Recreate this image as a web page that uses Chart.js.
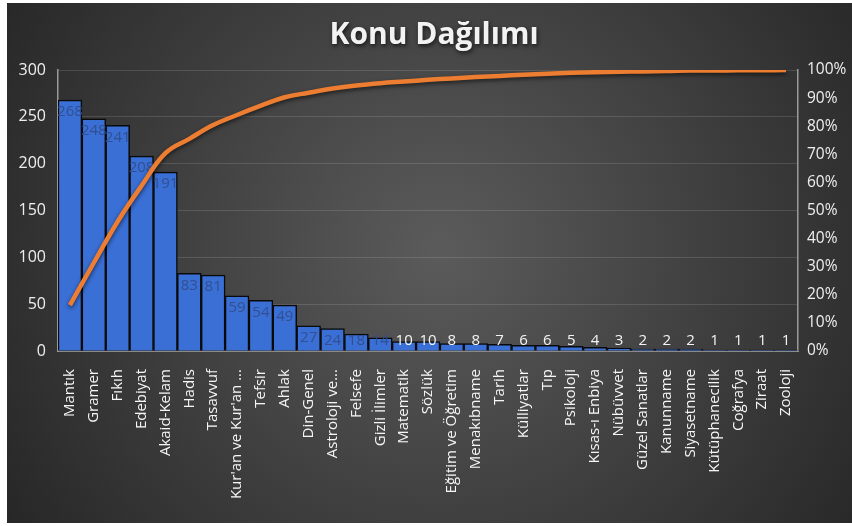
<!DOCTYPE html>
<html>
<head>
<meta charset="utf-8">
<script src="https://cdn.jsdelivr.net/npm/chart.js@4.4.1/dist/chart.umd.min.js"></script>
<style>
  html, body { margin: 0; padding: 0; background: #ffffff; }
  #kutu { width: 852px; height: 526px; }
</style>
</head>
<body>
<div id="kutu"><canvas id="grafikKonu"></canvas></div>
<script>
// Konu dağılımı verileri
const konular = ["Mantık", "Gramer", "Fıkıh", "Edebiyat", "Akaid-Kelam", "Hadis", "Tasavvuf",
    "Kur'an ve Kur'an ...", "Tefsir", "Ahlak", "Din-Genel", "Astroloji ve...", "Felsefe",
    "Gizli İlimler", "Matematik", "Sözlük", "Eğitim ve Öğretim", "Menakıbname", "Tarih",
    "Külliyatlar", "Tıp", "Psikoloji", "Kısas-ı Enbiya", "Nübüvvet", "Güzel Sanatlar",
    "Kanunname", "Siyasetname", "Kütüphanecilik", "Coğrafya", "Ziraat", "Zooloji"];
const adetler = [268, 248, 241, 208, 191, 83, 81, 59, 54, 49, 27, 24, 18, 14, 10, 10,
    8, 8, 7, 6, 6, 5, 4, 3, 2, 2, 2, 1, 1, 1, 1];
const kumulatif = [16.3, 31.4, 46.1, 58.8, 70.4, 75.5, 80.4, 84.0, 87.3, 90.3, 91.9, 93.4,
    94.5, 95.3, 95.9, 96.5, 97.0, 97.5, 97.9, 98.3, 98.7, 99.0, 99.2, 99.4, 99.5, 99.6,
    99.8, 99.8, 99.9, 99.9, 100];
const solTikler = [0, 50, 100, 150, 200, 250, 300];
const sagTikler = [0, 10, 20, 30, 40, 50, 60, 70, 80, 90, 100];
const baslik = "Konu Dağılımı";

const yazi = "'Open Sans', 'Noto Sans', sans-serif";

const arkaPlan = {
    id: 'arkaPlan',
    beforeDraw(chart) {
        let ctx = chart.ctx;
        ctx.save();
        ctx.fillStyle = '#ffffff';
        ctx.fillRect(0, 0, chart.width, chart.height);
        let g = ctx.createRadialGradient(440, 250, 10, 440, 250, 520);
        g.addColorStop(0, '#5a5a5a');
        g.addColorStop(1, '#262626');
        ctx.fillStyle = g;
        ctx.fillRect(7, 3, chart.width - 7, chart.height - 6);
        ctx.restore();
    },
    afterDraw(chart) {
        let ctx = chart.ctx;
        ctx.save();
        ctx.font = "bold 30px " + yazi;
        ctx.textAlign = 'center';
        ctx.textBaseline = 'middle';
        ctx.shadowColor = 'rgba(0,0,0,0.7)';
        ctx.shadowBlur = 4;
        ctx.shadowOffsetX = 1;
        ctx.shadowOffsetY = 2;
        ctx.fillStyle = '#f2f2f2';
        ctx.fillText(baslik, 434, 35);
        ctx.restore();
    }
};

// sütun etiketleri + çizgi gölgesi
const etiketler = {
    id: 'etiketler',
    beforeDatasetDraw(chart, args) {
        if (args.index !== 1) return;
        let ctx = chart.ctx;
        ctx.save();
        ctx.shadowColor = 'rgba(0,0,0,0.6)';
        ctx.shadowBlur = 4;
        ctx.shadowOffsetY = 2;
    },
    afterDatasetDraw(chart, args) {
        let ctx = chart.ctx;
        if (args.index === 1) {
            ctx.restore();
            return;
        }
        let alt = chart.chartArea.bottom;
        ctx.save();
        ctx.font = "15px " + yazi;
        ctx.textAlign = 'center';
        ctx.textBaseline = 'middle';
        args.meta.data.forEach((bar, i) => {
            let deger = adetler[i];
            let y = Math.min(bar.y + 12, alt - 10);
            ctx.fillStyle = deger >= 14 ? 'rgba(50,75,135,0.9)' : '#f4f4f4';
            ctx.fillText(String(deger), bar.x, y);
        });
        ctx.restore();
    }
};

const ctxKonu = document.getElementById('grafikKonu');

new Chart(ctxKonu, {
    data: {
        labels: konular,
        datasets: [
            {
                type: 'bar',
                label: 'Adet',
                data: adetler,
                yAxisID: 'ySol',
                backgroundColor: '#3a6fd6',
                borderColor: '#0a0a0a',
                borderWidth: 1.5,
                barPercentage: 1,
                categoryPercentage: 1,
                order: 1
            },
            {
                type: 'line',
                label: 'Kümülatif',
                data: kumulatif,
                yAxisID: 'ySag',
                borderColor: '#ed7d31',
                borderWidth: 4.5,
                tension: 0.4,
                pointRadius: 0,
                order: 0
            }
        ]
    },
    options: {
        responsive: true,
        maintainAspectRatio: false,
        animation: false,
        layout: { padding: { top: 70, left: 0, right: 0, bottom: 0 } },
        plugins: {
            legend: { display: false },
            title: { display: false },
            tooltip: { enabled: false }
        },
        scales: {
            x: {
                grid: { display: false },
                border: { color: '#8a8a8a' },
                ticks: {
                    autoSkip: false,
                    maxRotation: 90,
                    minRotation: 90,
                    padding: 10,
                    color: '#f6f6f6',
                    font: { size: 15, family: yazi }
                },
                afterFit: (s) => { s.height = 175; }
            },
            ySol: {
                position: 'left',
                min: 0,
                max: 300,
                afterBuildTicks: (s) => { s.ticks = solTikler.map(v => ({ value: v })); },
                grid: { color: 'rgba(255,255,255,0.13)', drawTicks: false },
                border: { color: '#9a9a9a', width: 1.5 },
                ticks: {
                    padding: 12,
                    color: '#eeeeee',
                    font: { size: 16, family: yazi }
                },
                afterFit: (s) => { s.width = 58; }
            },
            ySag: {
                position: 'right',
                min: 0,
                max: 100,
                afterBuildTicks: (s) => { s.ticks = sagTikler.map(v => ({ value: v })); },
                grid: { display: false, drawTicks: false },
                border: { color: '#9a9a9a', width: 1.5 },
                ticks: {
                    padding: 9,
                    color: '#eeeeee',
                    font: { size: 15.5, family: yazi },
                    callback: (v) => v + '%'
                },
                afterFit: (s) => { s.width = 54; }
            }
        }
    },
    plugins: [arkaPlan, etiketler]
});
</script>
</body>
</html>
